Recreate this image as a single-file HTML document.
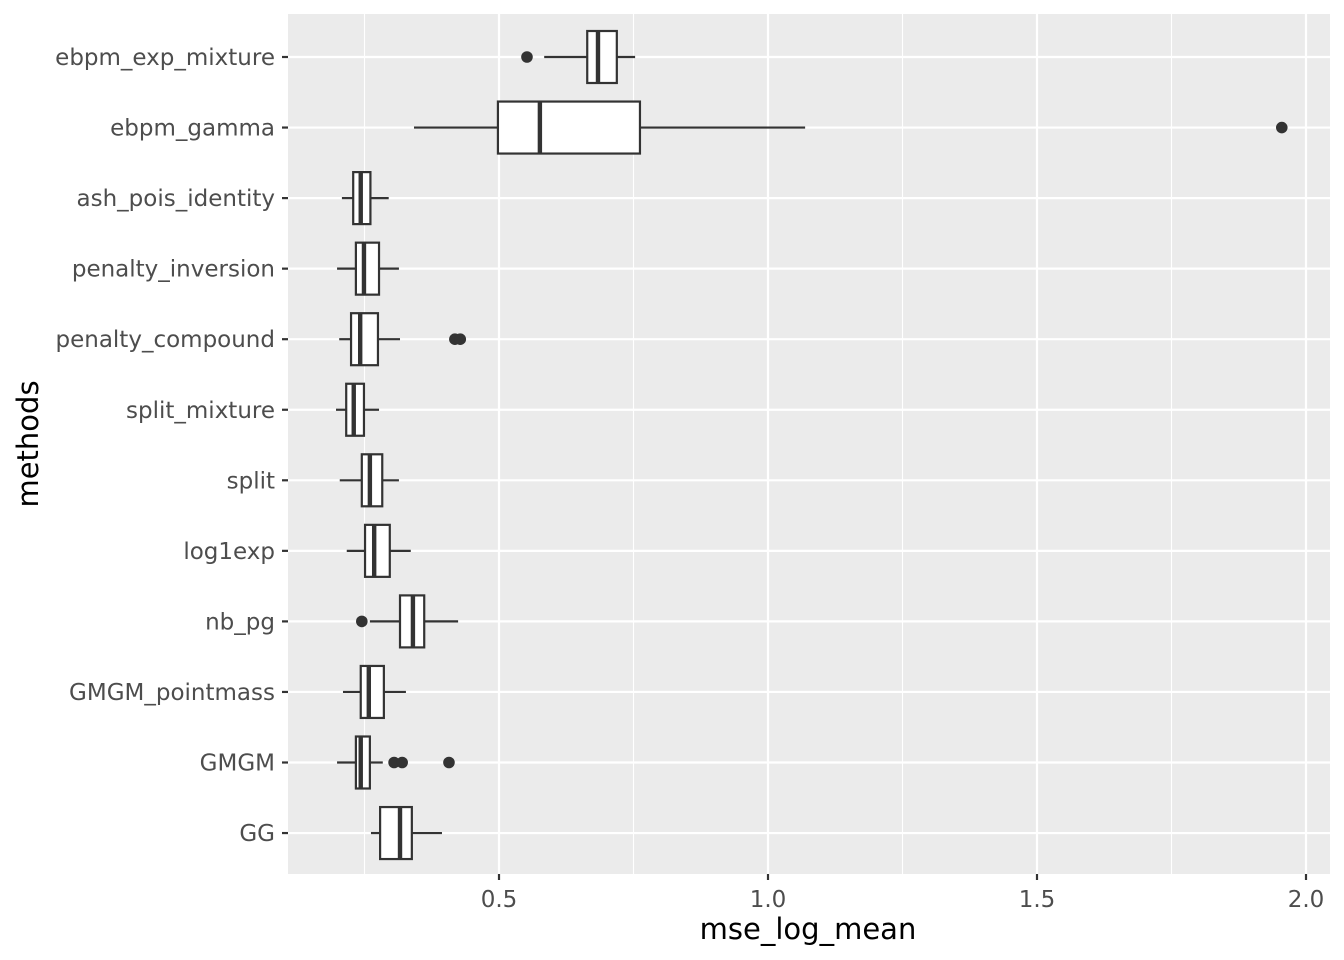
<!DOCTYPE html>
<html><head><meta charset="utf-8"><style>
html,body{margin:0;padding:0;background:#fff;}
svg{display:block;font-family:"DejaVu Sans","Liberation Sans",sans-serif;}
</style></head><body>
<svg id="chart" width="1344" height="960">
<rect x="288" y="14" width="1042" height="860" fill="#ebebeb"/>
<g id="grid"></g><g id="boxes"></g><g id="axes"></g>
<text x="808" y="939" font-size="29" text-anchor="middle" fill="#000">mse_log_mean</text>
<text transform="translate(38,444) rotate(-90)" font-size="29" text-anchor="middle" fill="#000">methods</text>
</svg>
<script>
const categories=["ebpm_exp_mixture","ebpm_gamma","ash_pois_identity","penalty_inversion","penalty_compound","split_mixture","split","log1exp","nb_pg","GMGM_pointmass","GMGM","GG"];
const whiskerLow=[0.584,0.342,0.208,0.199,0.203,0.197,0.204,0.217,0.260,0.210,0.199,0.262];
const q1=[0.664,0.498,0.229,0.234,0.225,0.216,0.245,0.251,0.316,0.243,0.234,0.279];
const medians=[0.684,0.576,0.243,0.249,0.242,0.230,0.260,0.268,0.340,0.258,0.243,0.316];
const q3=[0.719,0.762,0.261,0.277,0.275,0.249,0.283,0.297,0.361,0.286,0.260,0.338];
const whiskerHigh=[0.753,1.069,0.295,0.314,0.316,0.277,0.314,0.336,0.424,0.327,0.284,0.394];
const outliers=[[0.552],[1.955],[],[],[0.418,0.428],[],[],[],[0.245],[],[0.305,0.320,0.407],[]];
const xTicks=[0.5,1.0,1.5,2.0];
const xTickLabels=["0.5","1.0","1.5","2.0"];
const xMinor=[0.25,0.75,1.25,1.75];
const NS="http://www.w3.org/2000/svg";
function x(v){return 499+(v-0.5)*538;}
function y(i){return 57+i*70.55;}
function mk(p,tag,a){const e=document.createElementNS(NS,tag);for(const k in a)e.setAttribute(k,a[k]);p.appendChild(e);return e;}
const grid=document.getElementById('grid'),boxes=document.getElementById('boxes'),axes=document.getElementById('axes');
xMinor.forEach(v=>{const l=mk(grid,'line',{x1:x(v),x2:x(v),y1:14,y2:874,stroke:'#fff','stroke-width':1.1});

});
xTicks.forEach((v,i)=>{const l=mk(grid,'line',{x1:x(v),x2:x(v),y1:14,y2:874,stroke:'#fff','stroke-width':2.2});


const t=mk(axes,'line',{x1:x(v),x2:x(v),y1:874,y2:880,stroke:'#333','stroke-width':2.2});


const tx=mk(axes,'text',{x:x(v),y:907,'font-size':23,'text-anchor':'middle',fill:'#4d4d4d'});tx.textContent=xTickLabels[i];

});
categories.forEach((c,i)=>{const yy=y(i);
const g=mk(grid,'line',{x1:288,x2:1330,y1:yy,y2:yy,stroke:'#fff','stroke-width':2.2});


const t=mk(axes,'line',{x1:282,x2:288,y1:yy,y2:yy,stroke:'#333','stroke-width':2.2});


const tx=mk(axes,'text',{x:275,y:yy+8,'font-size':23,'text-anchor':'end',fill:'#4d4d4d'});tx.textContent=c;


const bg=mk(boxes,'g',{});


mk(bg,'line',{x1:x(whiskerLow[i]),x2:x(q1[i]),y1:yy,y2:yy,stroke:'#333','stroke-width':2.2});
mk(bg,'line',{x1:x(q3[i]),x2:x(whiskerHigh[i]),y1:yy,y2:yy,stroke:'#333','stroke-width':2.2});
mk(bg,'rect',{x:x(q1[i]),y:yy-26,width:x(q3[i])-x(q1[i]),height:52,fill:'#fff',stroke:'#333','stroke-width':2.2});
mk(bg,'line',{x1:x(medians[i]),x2:x(medians[i]),y1:yy-26,y2:yy+26,stroke:'#333','stroke-width':4.4});
outliers[i].forEach(o=>{const p=mk(bg,'circle',{cx:x(o),cy:yy,r:5.8,fill:'#333'});

});});
</script>
</body></html>
